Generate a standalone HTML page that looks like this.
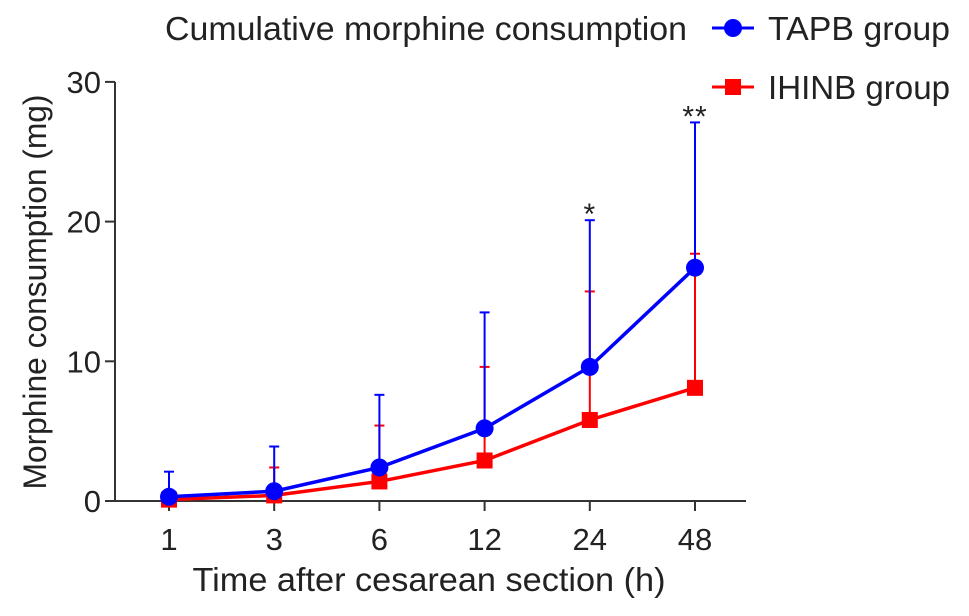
<!DOCTYPE html>
<html><head><meta charset="utf-8"><style>
body{margin:0;background:#fff}
svg text{font-family:"Liberation Sans",Arial,sans-serif;fill:#222}
</style></head><body>
<svg id="chart" width="969" height="611" viewBox="0 0 969 611" xmlns="http://www.w3.org/2000/svg">
<text x="165" y="40" font-size="33" textLength="522" lengthAdjust="spacingAndGlyphs">Cumulative morphine consumption</text>
<g>
<line x1="712" y1="28" x2="754" y2="28" stroke="#0000ff" stroke-width="3"/><circle cx="733" cy="28" r="9" fill="#0000ff"/>
<text x="768" y="40" font-size="33" textLength="182" lengthAdjust="spacingAndGlyphs">TAPB group</text></g>
<g>
<line x1="712" y1="87" x2="754" y2="87" stroke="#ff0000" stroke-width="3"/><rect x="725" y="79" width="16" height="16" fill="#ff0000"/>
<text x="768" y="99" font-size="33" textLength="182" lengthAdjust="spacingAndGlyphs">IHINB group</text></g>
<text transform="translate(46,292) rotate(-90)" text-anchor="middle" font-size="32" textLength="395" lengthAdjust="spacingAndGlyphs">Morphine consumption (mg)</text>
<text x="429" y="591" text-anchor="middle" font-size="33" textLength="473" lengthAdjust="spacingAndGlyphs">Time after cesarean section (h)</text>
<g id="axes"></g><g id="marks"></g>
</svg>
<script>
const categories=["1","3","6","12","24","48"];
const tapbMean=[0.3,0.7,2.4,5.2,9.6,16.7];
const tapbErr=[1.8,3.2,5.2,8.3,10.5,10.4];
const ihinbMean=[0.1,0.4,1.4,2.9,5.8,8.1];
const ihinbErr=[0.2,2.0,4.0,6.7,9.2,9.6];
const yTicks=[0,10,20,30];
const sigLabels=["","","","","*","**"];
const NS="http://www.w3.org/2000/svg";
function xS(i){return 169+i*105.2;}
function yS(v){return 501-v*13.97;}
function mk(t,a,p){const e=document.createElementNS(NS,t);for(const k in a)e.setAttribute(k,a[k]);p.appendChild(e);return e;}
const ax=document.getElementById('axes'),mg=document.getElementById('marks');
let l=mk('line',{x1:115,y1:yS(30),x2:115,y2:501,stroke:'#333','stroke-width':2},ax);


l=mk('line',{x1:105,y1:501,x2:746,y2:501,stroke:'#333','stroke-width':2},ax);


yTicks.forEach(v=>{mk('line',{x1:105,y1:yS(v),x2:115,y2:yS(v),stroke:'#333','stroke-width':2},ax);
const t=mk('text',{x:101,y:yS(v)+11,'text-anchor':'end','font-size':31},ax);t.textContent=v;

});
categories.forEach((c,i)=>{mk('line',{x1:xS(i),y1:501,x2:xS(i),y2:511,stroke:'#333','stroke-width':2},ax);
const t=mk('text',{x:xS(i),y:550,'text-anchor':'middle','font-size':31},ax);t.textContent=c;

});
function series(mean,err,col,shape,name){
 const g=mk('g',{},mg);
 
 
 mean.forEach((m,i)=>{const x=xS(i);mk('line',{x1:x,y1:yS(m),x2:x,y2:yS(m+err[i]),stroke:col,'stroke-width':2},g);
  mk('line',{x1:x-5,y1:yS(m+err[i]),x2:x+5,y2:yS(m+err[i]),stroke:col,'stroke-width':2},g);});
 mk('polyline',{points:mean.map((m,i)=>xS(i)+','+yS(m)).join(' '),fill:'none',stroke:col,'stroke-width':3.5},g);
 mean.forEach((m,i)=>{let e;if(shape==='c')e=mk('circle',{cx:xS(i),cy:yS(m),r:9,fill:col},g);
  else e=mk('rect',{x:xS(i)-8,y:yS(m)-8,width:16,height:16,fill:col},g);
  
  });
}
series(ihinbMean,ihinbErr,'#ff0000','s','ihinb-series');
series(tapbMean,tapbErr,'#0000ff','c','tapb-series');
sigLabels.forEach((s,i)=>{if(!s)return;const t=mk('text',{x:xS(i),y:yS(tapbMean[i]+tapbErr[i])+4,'text-anchor':'middle','font-size':30,'letter-spacing':'1'},mg);t.textContent=s;

});
</script>
</body></html>
